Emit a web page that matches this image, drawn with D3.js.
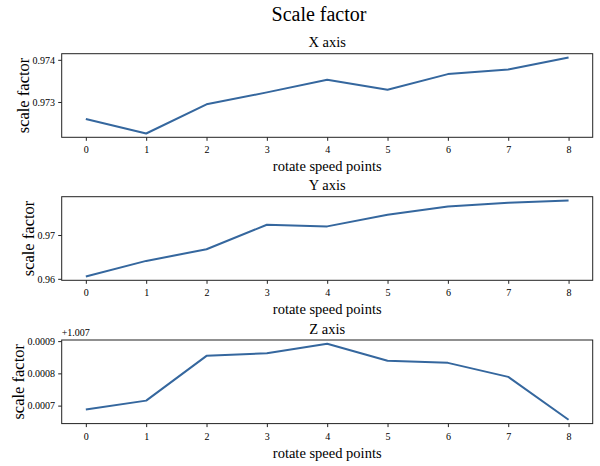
<!DOCTYPE html>
<html>
<head>
<meta charset="utf-8">
<script src="https://cdn.jsdelivr.net/npm/d3@7"></script>
<style>
	body { margin: 0; background: #fff; }
	svg { display: block; }
	text { font-family: "Liberation Serif", "Times New Roman", serif; fill: #000; }
	.domain { display: none; }
	.tick line { stroke: #222; }
</style>
</head>
<body>
<div class="chart"></div>
<script>

// rotate speed points
const points = [0, 1, 2, 3, 4, 5, 6, 7, 8];

// scale factor per axis
const xAxisValues = [0.972598, 0.972252, 0.972945, 0.973228, 0.973528, 0.973291, 0.973661, 0.973772, 0.974055];
const yAxisValues = [0.96053, 0.96409, 0.96674, 0.97235, 0.97197, 0.97462, 0.97652, 0.97735, 0.97788];
const zAxisValues = [1.0076876, 1.0077155, 1.0078544, 1.0078627, 1.0078917, 1.0078389, 1.0078326, 1.0077891, 1.0076560];

// y tick values
const xAxisTicks = [0.973, 0.974];
const yAxisTicks = [0.96, 0.97];
const zAxisTicks = [1.0077, 1.0078, 1.0079];
const zOffset = 1.007;

const panels = [
	{ title: "X axis", values: xAxisValues, ticks: xAxisTicks, fmt: (d) => d.toFixed(3), offset: null },
	{ title: "Y axis", values: yAxisValues, ticks: yAxisTicks, fmt: (d) => d.toFixed(2), offset: null },
	{ title: "Z axis", values: zAxisValues, ticks: zAxisTicks, fmt: (d) => (d - zOffset).toFixed(4), offset: "+" + zOffset }
];

const width = 600;
const height = 466;
const left = 61.7;
const right = 592.7;
const tops = [53.7, 196.7, 340];
const panelHeight = 83.6;
const serif = "Liberation Serif, Times New Roman, serif";

const svg = d3.select(".chart").append("svg")
	.attr("width", width)
	.attr("height", height);

svg.append("text")
	.attr("x", 319)
	.attr("y", 21)
	.attr("text-anchor", "middle")
	.style("font-size", "20px")
	.text("Scale factor");

const x = d3.scaleLinear()
	.domain([-0.4, 8.4])
	.range([left, right]);

panels.forEach((p, i) => {
	const top = tops[i];
	const bottom = top + panelHeight;
	const [lo, hi] = d3.extent(p.values);
	const pad = (hi - lo) * 0.05;

	const y = d3.scaleLinear()
		.domain([lo - pad, hi + pad])
		.range([bottom, top]);

	const g = svg.append("g");

	g.append("g")
		.attr("transform", `translate(0,${bottom})`)
		.call(d3.axisBottom(x).tickValues(points).tickSize(3.5).tickPadding(5.4).tickFormat(d3.format("d")))
		.attr("font-family", serif)
		.attr("font-size", 10);

	const yAxis = g.append("g")
		.attr("transform", `translate(${left},0)`)
		.call(d3.axisLeft(y).tickValues(p.ticks).tickSize(3.5).tickPadding(3.2).tickFormat(p.fmt))
		.attr("font-family", serif)
		.attr("font-size", 10);

	g.append("path")
		.datum(p.values)
		.attr("fill", "none")
		.attr("stroke", "#35679e")
		.attr("stroke-width", 2)
		.attr("stroke-linejoin", "round")
		.attr("d", d3.line().x((d, j) => x(points[j])).y((d) => y(d)));

	g.append("rect")
		.attr("x", left)
		.attr("y", top)
		.attr("width", right - left)
		.attr("height", panelHeight)
		.attr("fill", "none")
		.attr("stroke", "#222")
		.attr("stroke-width", 1);

	g.append("text")
		.attr("x", (left + right) / 2)
		.attr("y", top - 6.5)
		.attr("text-anchor", "middle")
		.style("font-size", "14.5px")
		.text(p.title);

	g.append("text")
		.attr("x", (left + right) / 2)
		.attr("y", bottom + 34)
		.attr("text-anchor", "middle")
		.style("font-size", "14.5px")
		.text("rotate speed points");

	if (p.offset) {
		g.append("text")
			.attr("x", left)
			.attr("y", top - 4)
			.style("font-size", "10px")
			.text(p.offset);
	}

	// ylabel sits just left of the widest tick label
	let minX = left;
	yAxis.selectAll("text").each(function() {
		const b = this.getBBox();
		const m = this.getCTM();
		minX = Math.min(minX, b.x + m.e);
	});

	g.append("text")
		.attr("transform", `translate(${minX - 4},${(top + bottom) / 2}) rotate(-90)`)
		.attr("text-anchor", "middle")
		.style("font-size", "16.5px")
		.text("scale factor");
});

</script>
</body>
</html>
